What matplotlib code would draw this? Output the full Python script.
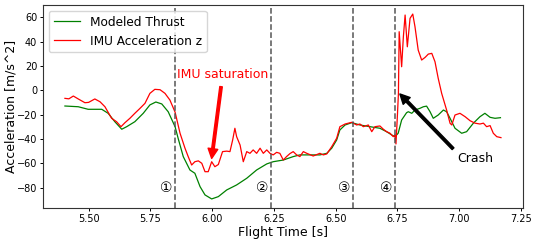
import matplotlib
matplotlib.use("Agg")
import matplotlib.pyplot as plt

# Modeled thrust (green)
t_thrust = [5.404, 5.458, 5.498, 5.553, 5.579, 5.606, 5.634, 5.654, 5.687, 5.721,
            5.748, 5.772, 5.796, 5.822, 5.850, 5.863, 5.883, 5.910, 5.930, 5.951,
            5.971, 5.998, 6.025, 6.059, 6.099, 6.140, 6.180, 6.221, 6.247, 6.288,
            6.328, 6.355, 6.436, 6.464, 6.484, 6.504, 6.517, 6.538, 6.565, 6.598,
            6.639, 6.679, 6.706, 6.727, 6.740, 6.753, 6.767, 6.787, 6.794, 6.808,
            6.821, 6.841, 6.855, 6.868, 6.882, 6.895, 6.915, 6.936, 6.949, 6.963,
            6.983, 7.010, 7.030, 7.057, 7.084, 7.104, 7.125, 7.145, 7.167]
a_thrust = [-12.9, -13.5, -15.6, -15.6, -18.9, -25.8, -32.0, -29.9, -25.8, -18.9,
            -12.0, -9.6, -11.2, -17.6, -30.0, -40.0, -54.5, -65.5, -68.2, -79.2,
            -86.0, -89.3, -87.4, -81.9, -77.8, -72.3, -65.5, -60.5, -58.7, -57.3,
            -54.5, -53.1, -53.1, -51.8, -47.6, -40.8, -32.6, -28.5, -26.6, -28.5,
            -29.9, -31.2, -34.0, -36.7, -38.1, -35.3, -24.4, -18.4, -17.6, -18.9,
            -16.2, -14.8, -13.5, -13.0, -17.6, -23.0, -20.3, -16.2, -17.6, -23.0,
            -31.2, -35.3, -34.0, -27.1, -21.7, -18.9, -22.2, -23.0, -22.5]

# IMU acceleration z (red)
t_imu = [5.404, 5.420, 5.438, 5.458, 5.485, 5.500, 5.525, 5.546, 5.566, 5.593,
         5.613, 5.631, 5.647, 5.667, 5.687, 5.707, 5.728, 5.748, 5.768, 5.789,
         5.809, 5.829, 5.850, 5.870, 5.890, 5.903, 5.917, 5.930, 5.944, 5.958,
         5.971, 5.984, 5.998, 6.011, 6.025, 6.042, 6.059, 6.072, 6.083, 6.092,
         6.099, 6.113, 6.126, 6.140, 6.153, 6.166, 6.180, 6.194, 6.207, 6.221,
         6.234, 6.247, 6.261, 6.274, 6.288, 6.301, 6.315, 6.328, 6.342, 6.355,
         6.369, 6.383, 6.409, 6.436, 6.450, 6.464, 6.484, 6.504, 6.517, 6.538,
         6.565, 6.585, 6.598, 6.612, 6.632, 6.646, 6.659, 6.679, 6.693, 6.706,
         6.720, 6.733, 6.740, 6.744, 6.750, 6.754, 6.757, 6.767, 6.774, 6.781,
         6.790, 6.801, 6.812, 6.821, 6.834, 6.848, 6.862, 6.875, 6.889, 6.902,
         6.915, 6.929, 6.949, 6.963, 6.970, 6.983, 7.003, 7.024, 7.044, 7.064,
         7.084, 7.098, 7.111, 7.125, 7.138, 7.152, 7.169]
a_imu = [-6.6, -7.0, -4.7, -7.1, -10.2, -9.9, -7.1, -9.4, -13.5, -23.0,
         -25.8, -29.9, -26.6, -23.0, -18.9, -15.0, -10.7, -2.5, 0.8, 0.5,
         -2.5, -8.0, -18.0, -35.3, -47.6, -54.5, -61.4, -58.7, -58.0, -60.0,
         -66.9, -66.9, -58.7, -62.8, -61.0, -50.4, -50.0, -50.4, -40.8, -31.2,
         -38.1, -45.0, -58.7, -50.4, -51.8, -49.0, -51.8, -47.6, -51.8, -49.0,
         -51.8, -53.1, -51.0, -51.8, -57.3, -54.5, -52.0, -50.4, -53.1, -54.5,
         -50.4, -51.8, -54.0, -51.8, -53.1, -52.3, -46.3, -39.4, -29.9, -27.7,
         -26.3, -28.5, -27.7, -29.9, -28.5, -34.0, -29.9, -29.3, -32.0, -34.0,
         -35.3, -38.1, -36.7, -44.1, -20.0, -2.5, 48.2, 19.4, 44.1, 61.9,
         35.8, 59.2, 62.7, 52.3, 33.1, 24.9, 27.1, 29.8, 30.4, 23.5,
         9.9, -2.5, -16.2, -27.1, -28.5, -20.3, -18.9, -21.7, -25.0, -27.0,
         -27.7, -27.0, -29.9, -29.0, -35.3, -38.1, -38.9]

phase_times = [5.85, 6.24, 6.57, 6.74]
phase_labels = ["①", "②", "③", "④"]

fig = plt.figure(figsize=(5.35, 2.41), dpi=100)
ax = fig.add_axes([0.0798, 0.1357, 0.8972, 0.8448])

ax.plot(t_thrust, a_thrust, color="green", lw=0.9, label="Modeled Thrust")
ax.plot(t_imu, a_imu, color="red", lw=0.9, label="IMU Acceleration z")

for t, lab in zip(phase_times, phase_labels):
    ax.axvline(t, color="#555555", ls="--", lw=1.1)
    ax.text(t - 0.012, -80, lab, ha="right", va="center", fontsize=10,
            family=["DejaVu Sans", "Noto Sans CJK JP"])

ax.annotate("", xy=(5.998, -56), xytext=(6.036, 3),
            arrowprops=dict(facecolor="red", edgecolor="red", width=1.8,
                            headwidth=7, headlength=7, shrink=0))
ax.text(5.857, 13.4, "IMU saturation", color="red", fontsize=9,
        ha="left", va="center")

ax.annotate("", xy=(6.76, -3), xytext=(6.975, -48),
            arrowprops=dict(facecolor="black", edgecolor="black", width=1.8,
                            headwidth=7, headlength=7, shrink=0))
ax.text(6.994, -56.4, "Crash", color="black", fontsize=9, ha="left", va="center")

ax.set_xlim(5.314, 7.257)
ax.set_ylim(-97.0, 70.4)
ax.set_xticks([5.50, 5.75, 6.00, 6.25, 6.50, 6.75, 7.00, 7.25])
ax.set_xticklabels(["5.50", "5.75", "6.00", "6.25", "6.50", "6.75", "7.00", "7.25"])
ax.set_yticks([-80, -60, -40, -20, 0, 20, 40, 60])
ax.tick_params(labelsize=7, length=2.5, width=0.7, pad=1.5)
ax.set_xlabel("Flight Time [s]", fontsize=9, labelpad=1.5)
ax.set_ylabel("Acceleration [m/s^2]", fontsize=9)
ax.yaxis.set_label_coords(-0.053, 0.5)
for s in ax.spines.values():
    s.set_linewidth(0.8)
    s.set_color("#333333")

ax.legend(loc="upper left", fontsize=8.7, handlelength=2.2)

fig.savefig("out.png", dpi=100)
